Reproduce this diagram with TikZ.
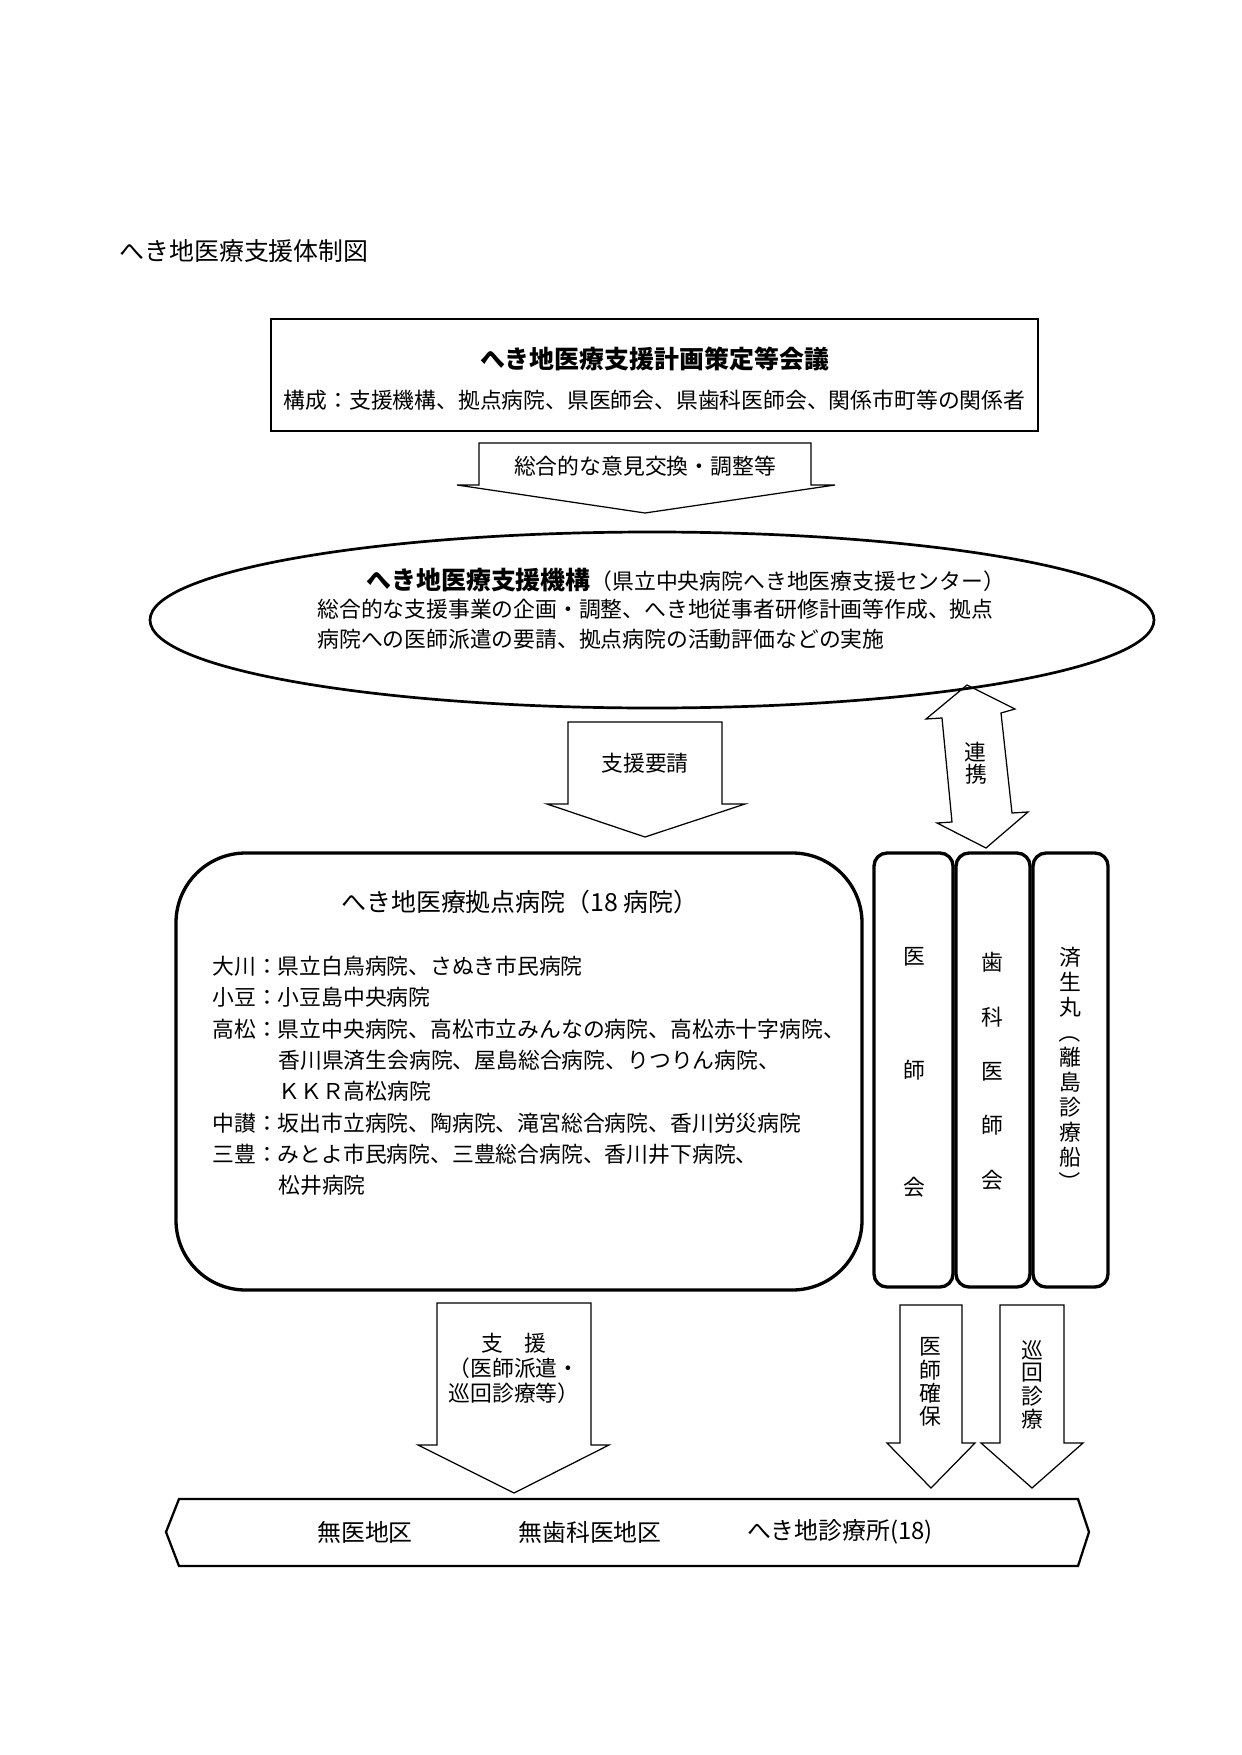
\documentclass[tikz,border=0pt]{standalone}
\usepackage{fontspec}
\setmainfont{Noto Sans CJK JP}
\usetikzlibrary{calc}

\begin{document}
\begin{tikzpicture}[
    x = 0.01692cm, y = -0.01692cm,
    line join = miter,
    frame/.style = {line width = 1.3pt},
    cell/.style = {line width = 1.6pt, rounded corners = 0.22cm},
    blockarrow/.style = {line width = 0.6pt},
    body/.style = {inner sep = 0pt, font = \fontsize{10.5pt}{12pt}\selectfont},
    heading/.style = {inner sep = 0pt, font = \fontsize{12pt}{14pt}\selectfont},
    boldheading/.style = {inner sep = 0pt, font = \fontsize{12pt}{14pt}\selectfont\bfseries},
    place/.style = {inner sep = 0pt, font = \fontsize{11.5pt}{14pt}\selectfont}
    ]

    % Determines the boundries (pixels of the page)
    \path[use as bounding box] (0,0) rectangle (1241,1755);

    \def\ex{652}            % center of the ellipse
    \def\ey{620}
    \def\rx{502}            % radii of the ellipse
    \def\ry{88}
    \def\gap{31.4}          % line gap of the hospital list

    % Title of the page
    \node (title) [heading, anchor = west] at (119,251) {へき地医療支援体制図};

    % Council box
    \coordinate (CTL) at (271,319);
    \coordinate (CBR) at (1038,431);
    \draw[frame] (CTL) rectangle (CBR);
    \node (council) [boldheading] at ($(CTL)!1/2!(CBR) + (0,-16)$) {へき地医療支援計画策定等会議};
    \node (members) [body] at ($(CTL)!1/2!(CBR) + (0,25)$)
        {構成：支援機構、拠点病院、県医師会、県歯科医師会、関係市町等の関係者};

    % Support organization
    \draw[frame] (\ex,\ey) ellipse [x radius = \rx, y radius = \ry];
    \node (kikou) [body, anchor = west] at (366,580)
        {{\fontsize{12pt}{14pt}\selectfont\bfseries へき地医療支援機構}（県立中央病院へき地医療支援センター）};
    \node (kikouA) [body, anchor = west] at (317,609)
        {総合的な支援事業の企画・調整、へき地従事者研修計画等作成、拠点};
    \node (kikouB) [body, anchor = west] at (317,639)
        {病院への医師派遣の要請、拠点病院の活動評価などの実施};

    % Base hospitals
    \draw[frame, line width = 1.6pt, rounded corners = 1.18cm] (176,853) rectangle (862,1290);
    \node (kyoten) [heading] at (520,902) {へき地医療拠点病院（18 病院）};
    \foreach \x/\txt [count = \i from 0] in {
        212/大川：県立白鳥病院、さぬき市民病院,
        212/小豆：小豆島中央病院,
        212/高松：県立中央病院、高松市立みんなの病院、高松赤十字病院、,
        278/香川県済生会病院、屋島総合病院、りつりん病院、,
        278/ＫＫＲ高松病院,
        212/中讃：坂出市立病院、陶病院、滝宮総合病院、香川労災病院,
        212/三豊：みとよ市民病院、三豊総合病院、香川井下病院、,
        278/松井病院}{
        \node (hosp\i) [body, anchor = west] at (\x, 966 + \gap*\i) {\txt};
    }

    % Associations (narrow boxes)
    \foreach \xl/\xr in {874/953, 956/1030, 1033/1108}{
        \draw[cell] (\xl,853) rectangle (\xr,1287);
    }
    \foreach \c/\y [count = \i] in {医/957, 師/1070, 会/1187}{
        \node (ishi\i) [body] at (914,\y) {\c};
    }
    \foreach \c/\y [count = \i] in {歯/962, 科/1017, 医/1072, 師/1125, 会/1180}{
        \node (shika\i) [body] at (992,\y) {\c};
    }
    % vertical writing: the brackets are turned
    \foreach \c/\r [count = \i from 0] in {済/0, 生/0, 丸/0, （/-90, 離/0, 島/0, 診/0, 療/0, 船/0, ）/-90}{
        \node (sai\i) [body, rotate = \r] at (1070, 957 + 25*\i) {\c};
    }

    % Block arrows: shaft left/right, top, shaft bottom, wing left/right, tip
    \foreach \sl/\sr/\t/\b/\wl/\wr/\tip in {
        479/811/443/485/457/835/513,
        568/722/722/804/547/745/837,
        437/591/1303/1445/418/609/1493,
        900/962/1305/1443/887/975/1488,
        1000/1064/1305/1443/981/1083/1488}{
        \draw[blockarrow] (\sl,\t) -- (\sr,\t) -- (\sr,\b) -- (\wr,\b)
            -- ({(\sl+\sr)/2},\tip) -- (\wl,\b) -- (\sl,\b) -- cycle;
    }
    \node (ikenA) [body] at (645,466) {総合的な意見交換・調整等};
    \node (youA) [body] at (645,763) {支援要請};
    \node (shien) [body, align = center] at (514,1368) {支　援\\（医師派遣・\\巡回診療等）};
    \foreach \c/\y [count = \i] in {医/1347, 師/1370, 確/1393, 保/1416}{
        \node (kakuho\i) [body] at (930,\y) {\c};
    }
    \foreach \c/\y [count = \i] in {巡/1350, 回/1373, 診/1396, 療/1419}{
        \node (junkai\i) [body] at (1032,\y) {\c};
    }

    % Double arrow (slightly tilted)
    \draw[blockarrow] (967,685) -- (1015,709) -- (1001,713) -- (1012,813) -- (1028,812)
        -- (986,848) -- (937,823) -- (952,822) -- (942,718) -- (926,719) -- cycle;
    \node (renkei1) [body] at (975,752) {連};
    \node (renkei2) [body] at (976,774) {携};

    % Remote areas
    \draw[frame, line width = 1.1pt] (179,1499) -- (1078,1499) -- (1089,1532) -- (1078,1566)
        -- (179,1566) -- (166,1532) -- cycle;
    \foreach \x/\txt [count = \i] in {365/無医地区, 590/無歯科医地区, 840/へき地診療所(18)}{
        \node (chiku\i) [place] at (\x,1532) {\txt};
    }

\end{tikzpicture}
\end{document}
